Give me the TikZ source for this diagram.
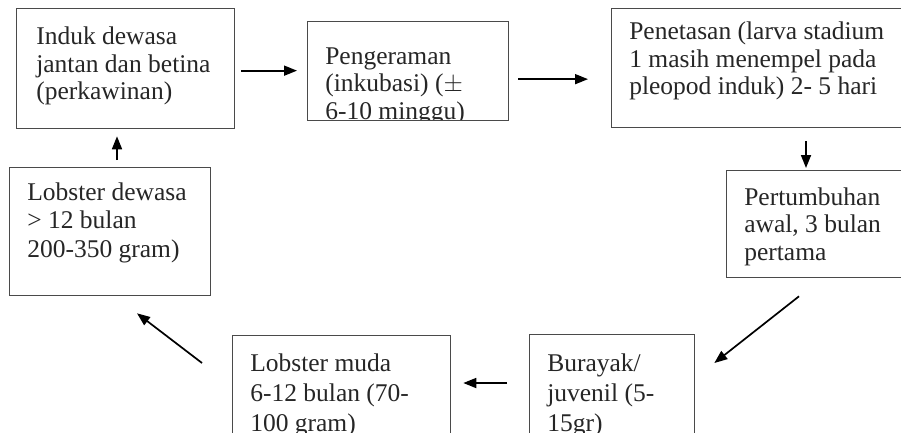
\documentclass[tikz,border=0pt]{standalone}
\usepackage{fontspec}
\setmainfont{Liberation Serif}
\usetikzlibrary{calc, arrows.meta}

\definecolor{boxgray}{HTML}{4A4A4A}
\definecolor{inkgray}{HTML}{262626}

\tikzset{
	stage/.style={draw=boxgray, line width=1.3pt, anchor=north west, inner sep=0pt},
	lbl/.style={draw=none, anchor=north west, align=left, inner sep=0pt,
		minimum width=0pt, minimum height=0pt, text=inkgray,
		font=\fontsize{25.5}{27.5}\selectfont},
	stagetext/.style 2 args={path picture={
		\node[lbl] at ($(path picture bounding box.north west)+(#1)$) {#2};}},
	flow/.style={-{Triangle[length=13pt,width=10pt]}, line width=1.7pt, black},
}

\begin{document}
\begin{tikzpicture}[x=1pt, y=-1pt]
	\clip (0,0) rectangle (901,432);
	\fill[white] (0,0) rectangle (901,432);

	% upper row
	\node[stage, minimum width=218pt, minimum height=120pt,
		stagetext={19,18}{Induk dewasa\\jantan dan betina\\(perkawinan)}]
		(induk) at (16,8) {};
	\node[stage, minimum width=201pt, minimum height=99pt,
		stagetext={17,25}{Pengeraman\\(inkubasi) ($\pm$\\6-10 minggu)}]
		(pengeraman) at (307,21) {};
	\node[stage, minimum width=300pt, minimum height=119pt,
		stagetext={17,13}{Penetasan (larva stadium\\1 masih menempel pada\\pleopod induk) 2- 5 hari}]
		(penetasan) at (611,8) {};

	% right side
	\node[stage, minimum width=200pt, minimum height=107pt,
		stagetext={17,16}{Pertumbuhan\\awal, 3 bulan\\pertama}]
		(pertumbuhan) at (726,170) {};

	% lower row, a little more leading
	\begin{scope}[lbl/.append style={font=\fontsize{25.5}{30}\selectfont}]
	\node[stage, minimum width=165pt, minimum height=120pt,
		stagetext={17,18}{Burayak/\\juvenil (5-\\15gr)}]
		(burayak) at (529,334) {};
	\node[stage, minimum width=218pt, minimum height=120pt,
		stagetext={17,17}{Lobster muda\\6-12 bulan (70-\\100 gram)}]
		(muda) at (232,335) {};
	\end{scope}

	% left side
	\node[stage, minimum width=201pt, minimum height=128pt,
		stagetext={17,14}{Lobster dewasa\\> 12 bulan\\200-350 gram)},
		lbl/.append style={font=\fontsize{25.5}{28.5}\selectfont}]
		(dewasa) at (9,167) {};

	% cycle
	\draw[flow, shorten <=6pt, shorten >=10pt]
		([yshift=-2pt]induk.east) -- ([yshift=-2pt]induk.east -| pengeraman.west);
	\draw[flow, shorten <=9pt, shorten >=23pt]
		([yshift=-8pt]pengeraman.east) -- ([yshift=-8pt]pengeraman.east -| penetasan.west);
	\draw[flow, shorten <=13pt, shorten >=2pt]
		([xshift=80pt]pertumbuhan.north west |- penetasan.south) -- ([xshift=80pt]pertumbuhan.north west);
	\draw[flow]
		($(pertumbuhan.south west)+(73,18)$) -- ($(burayak.north east)+(19,29)$);
	\draw[flow, shorten <=22pt, shorten >=12pt]
		($(burayak.north west)+(0,49)$) -- ($(muda.north east)+(0,48)$);
	\draw[flow]
		($(muda.north west)+(-30,28)$) -- ($(dewasa.south west)+(128,17)$);
	\draw[flow, shorten <=7pt, shorten >=7pt]
		([xshift=108pt]dewasa.north west) -- ([xshift=108pt]dewasa.north west |- induk.south);
\end{tikzpicture}
\end{document}
